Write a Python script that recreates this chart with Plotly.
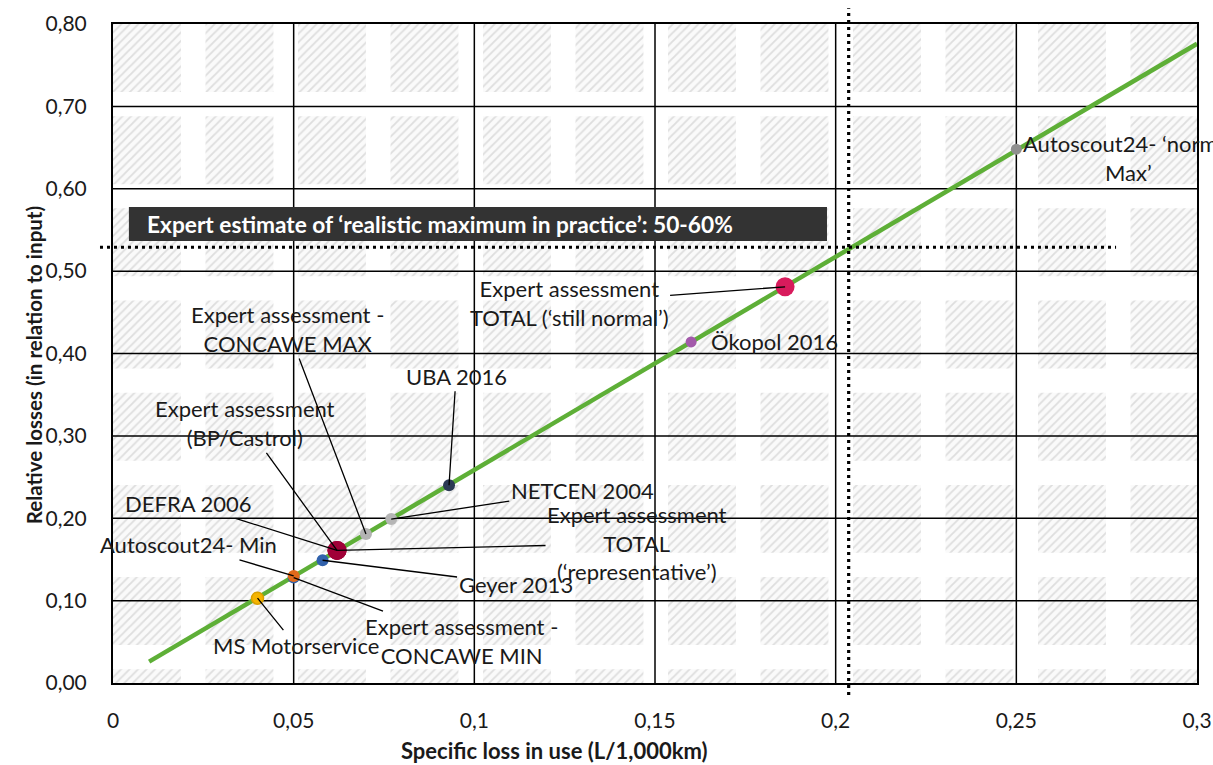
import plotly.graph_objects as go

# ---------------- data ----------------
source_labels = [
    "MS Motorservice",
    "Expert assessment -<br>CONCAWE MIN",
    "Autoscout24- Min",
    "Geyer 2013",
    "DEFRA 2006",
    "Expert assessment<br>(BP/Castrol)",
    "Expert assessment<br>TOTAL<br>(‘representative’)",
    "Expert assessment -<br>CONCAWE MAX",
    "NETCEN 2004",
    "UBA 2016",
    "Ökopol 2016",
    "Expert assessment<br>TOTAL (‘still normal’)",
    "Autoscout24- ‘normal<br>Max’",
]
specific_loss = [0.040, 0.050, 0.050, 0.058, 0.062, 0.062, 0.062, 0.070, 0.077, 0.093, 0.160, 0.186, 0.250]
relative_loss = [0.103, 0.128, 0.130, 0.149, 0.161, 0.161, 0.161, 0.181, 0.199, 0.240, 0.414, 0.481, 0.648]

trend_x = [0.010, 0.300]
trend_y = [0.026, 0.776]

expert_max_x = 0.2036   # vertical dotted reference
expert_max_y = 0.529    # horizontal dotted reference

x_tick_vals = [0, 0.05, 0.10, 0.15, 0.20, 0.25, 0.30]
x_tick_text = ["0", "0,05", "0,1", "0,15", "0,2", "0,25", "0,3"]
y_tick_vals = [0.0, 0.1, 0.2, 0.3, 0.4, 0.5, 0.6, 0.7, 0.8]
y_tick_text = ["0,00", "0,10", "0,20", "0,30", "0,40", "0,50", "0,60", "0,70", "0,80"]

box_text = "Expert estimate of ‘realistic maximum in practice’: 50-60%"
x_title = "Specific loss in use (L/1,000km)"
y_title = "Relative losses (in relation to input)"

# ---------------- styles ----------------
marker_colors = ["#F5B400", "#3461A8", "#E06A1B", "#3162AC", "#A00037", "#A00037", "#A00037",
                 "#B3B3B3", "#B5B5B5", "#2C3A55", "#A35AAA", "#D81B5C", "#8F8F8F"]
marker_sizes = [12, 12, 12, 12, 19, 19, 19, 12, 12, 12, 11, 19, 11]
marker_line_colors = ["#D9A000"] + ["rgba(0,0,0,0)"] * 12
# label placement: (ax, ay) pixel offsets of label centre from the point; None = plain label
label_offsets = [(38, 47), (168, 63), (-105, -31), (193, 24), (-149, -47), (-92, -127), (300, -7),
                 (-78, -205), (191, -29), (7, -109), None, (-216, 16), None]
plain_label_shift = {10: dict(xanchor="left", xshift=18, yshift=0),
                     12: dict(xanchor="center", xshift=112, yshift=-9)}

FONT = "Lato"
TXT = "#1a1a1a"
X_RANGE = [0, 0.3]
Y_RANGE = [0, 0.8]

fig = go.Figure()

# hatched background tiles (decorative pattern)
TILE_DX, TILE_W = 0.0256, 0.0188
TILE_DY, TILE_H = 0.1119, 0.0825
tx, ty = [], []
i = 0
while i * TILE_DX < X_RANGE[1]:
    x0 = i * TILE_DX
    x1 = min(x0 + TILE_W, X_RANGE[1])
    j = 0
    while Y_RANGE[1] - j * TILE_DY > Y_RANGE[0]:
        y1 = Y_RANGE[1] - j * TILE_DY
        y0 = max(y1 - TILE_H, Y_RANGE[0])
        tx += [x0, x1, x1, x0, x0, None]
        ty += [y0, y0, y1, y1, y0, None]
        j += 1
    i += 1
fig.add_trace(go.Scatter(
    x=tx, y=ty, mode="lines", fill="toself", line=dict(width=0, color="#f6f6f6"),
    fillcolor="#f8f8f8",
    fillpattern=dict(shape="/", size=6, solidity=0.3, fgcolor="#dedede", bgcolor="#fafafa"),
    hoverinfo="skip", showlegend=False))

# grid lines (drawn above the tiles)
gx, gy = [], []
for v in x_tick_vals[1:-1]:
    gx += [v, v, None]
    gy += [Y_RANGE[0], Y_RANGE[1], None]
for v in y_tick_vals[1:-1]:
    gx += [X_RANGE[0], X_RANGE[1], None]
    gy += [v, v, None]
fig.add_trace(go.Scatter(x=gx, y=gy, mode="lines", line=dict(color="#000000", width=1.5),
                         hoverinfo="skip", showlegend=False))

# trend line
fig.add_trace(go.Scatter(x=trend_x, y=trend_y, mode="lines",
                         line=dict(color="#5EAF37", width=4.5), hoverinfo="skip", showlegend=False))

# data points
fig.add_trace(go.Scatter(
    x=specific_loss, y=relative_loss, mode="markers",
    marker=dict(color=marker_colors, size=marker_sizes, opacity=1,
                line=dict(color=marker_line_colors, width=1.5)),
    hoverinfo="skip", showlegend=False, cliponaxis=False))

# helpers: data -> paper
def px(v):
    return (v - X_RANGE[0]) / (X_RANGE[1] - X_RANGE[0])

def py(v):
    return (v - Y_RANGE[0]) / (Y_RANGE[1] - Y_RANGE[0])

dot = dict(color="#000000", width=3.2, dash="3px,4px")
fig.add_shape(type="line", xref="paper", yref="paper",
              x0=px(expert_max_x), x1=px(expert_max_x), y0=py(-0.0146), y1=py(0.819), line=dot)
fig.add_shape(type="line", xref="paper", yref="paper",
              x0=px(-0.0036), x1=px(0.2776), y0=py(expert_max_y), y1=py(expert_max_y), line=dot)

# dark label box
box_x0, box_x1, box_y0, box_y1 = 0.0044, 0.1976, 0.5366, 0.5778
fig.add_shape(type="rect", xref="x", yref="y", x0=box_x0, x1=box_x1, y0=box_y0, y1=box_y1,
              fillcolor="#333333", line=dict(width=0), layer="above")
fig.add_annotation(xref="x", yref="y", x=box_x0 + 0.0045, y=(box_y0 + box_y1) / 2,
                   text="<b>" + box_text + "</b>", showarrow=False, xanchor="left", yanchor="middle",
                   font=dict(family=FONT, size=22.7, color="#ffffff"))

# point labels
for k, lab in enumerate(source_labels):
    off = label_offsets[k]
    if off is None:
        s = plain_label_shift[k]
        fig.add_annotation(x=specific_loss[k], y=relative_loss[k], text=lab, showarrow=False,
                           xanchor=s["xanchor"], yanchor="middle", xshift=s["xshift"], yshift=s["yshift"],
                           align="center", font=dict(family=FONT, size=22, color=TXT))
    else:
        fig.add_annotation(x=specific_loss[k], y=relative_loss[k], text=lab, showarrow=True,
                           ax=off[0], ay=off[1], arrowhead=0, arrowwidth=1.3, arrowcolor="#000000",
                           standoff=0, startstandoff=0, align="center",
                           font=dict(family=FONT, size=22, color=TXT))

# axis titles
fig.add_annotation(xref="paper", yref="paper", x=-0.085, y=0.482, text="<b>" + y_title + "</b>",
                   textangle=-90, showarrow=False, font=dict(family=FONT, size=20.5, color=TXT))
fig.add_annotation(xref="paper", yref="paper", x=0.407, y=-0.102, text="<b>" + x_title + "</b>",
                   showarrow=False, yanchor="middle", font=dict(family=FONT, size=22, color=TXT))

fig.update_xaxes(range=X_RANGE, tickvals=x_tick_vals, ticktext=x_tick_text, showgrid=False,
                 zeroline=False, showline=True, mirror=True, linecolor="#000000", linewidth=2,
                 ticks="", ticklabelstandoff=18, automargin=False,
                 tickfont=dict(family=FONT, size=21, color=TXT))
fig.update_yaxes(range=Y_RANGE, tickvals=y_tick_vals, ticktext=y_tick_text, showgrid=False,
                 zeroline=False, showline=True, mirror=True, linecolor="#000000", linewidth=2,
                 ticks="", ticklabelstandoff=20, automargin=False,
                 tickfont=dict(family=FONT, size=21, color=TXT))

fig.update_layout(width=1213, height=765, template="none",
                  margin=dict(l=113, r=16, t=24, b=82),
                  paper_bgcolor="#ffffff", plot_bgcolor="#ffffff",
                  font=dict(family=FONT, color=TXT), showlegend=False, hovermode=False)

fig.write_html("out.html", config={"displayModeBar": False},
               post_script="document.body.style.margin='0';document.body.style.padding='0';")
